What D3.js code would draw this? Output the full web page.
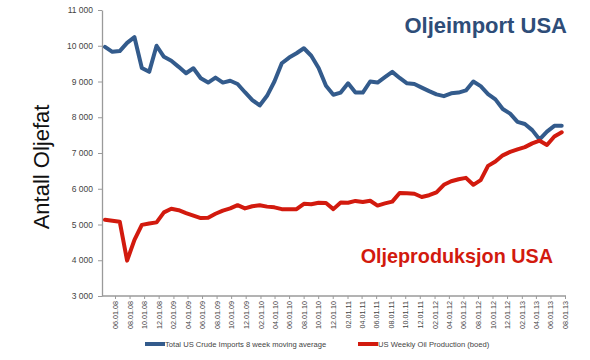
<!DOCTYPE html>
<html>
<head>
<meta charset="utf-8">
<script src="https://cdn.jsdelivr.net/npm/d3@7"></script>
<style>
  html, body { margin: 0; padding: 0; background: #fff; }
  svg { display: block; font-family: Arial, "Liberation Sans", sans-serif; }
</style>
</head>
<body>
<svg id="chart" width="590" height="360"></svg>
<script>
// Monthly points, roughly Apr 2008 – Jul 2013 (values in thousand barrels/day)
const importsValues = [
  9970, 9830, 9850, 10080, 10240, 9380, 9270, 10000, 9690, 9580,
  9410, 9230, 9370, 9090, 8970, 9110, 8970, 9020, 8930, 8700,
  8480, 8330, 8600, 9000, 9510, 9670, 9790, 9930, 9720, 9380,
  8880, 8630, 8690, 8950, 8690, 8690, 9000, 8970, 9120, 9270,
  9100, 8950, 8930, 8830, 8730, 8640, 8590, 8670, 8690, 8750,
  9000, 8870, 8650, 8500, 8230, 8100, 7870, 7810, 7640, 7380,
  7600, 7760, 7760
];
const productionValues = [
  5130, 5105, 5080, 3990, 4570, 4990, 5030, 5060, 5340, 5440,
  5400, 5320, 5250, 5180, 5190, 5300, 5390, 5450, 5540, 5450,
  5510, 5540, 5500, 5480, 5430, 5425, 5430, 5580, 5565, 5610,
  5600, 5430, 5615, 5610, 5660, 5630, 5665, 5530, 5590, 5640,
  5880, 5875, 5860, 5770, 5820, 5900, 6110, 6210, 6265, 6305,
  6110, 6240, 6640, 6760, 6935, 7030, 7100, 7165, 7270, 7345,
  7225, 7460, 7580
];
const yTicks = [3000, 4000, 5000, 6000, 7000, 8000, 9000, 10000, 11000];
const xTickLabels = [
  "06.01.08","08.01.08","10.01.08","12.01.08",
  "02.01.09","04.01.09","06.01.09","08.01.09","10.01.09","12.01.09",
  "02.01.10","04.01.10","06.01.10","08.01.10","10.01.10","12.01.10",
  "02.01.11","04.01.11","06.01.11","08.01.11","10.01.11","12.01.11",
  "02.01.12","04.01.12","06.01.12","08.01.12","10.01.12","12.01.12",
  "02.01.13","04.01.13","06.01.13","08.01.13"
];
const seriesNames = ["Total US Crude Imports 8 week moving average", "US Weekly Oil Production (boed)"];
const titleImport = "Oljeimport USA";
const titleProd = "Oljeproduksjon USA";
const yTitle = "Antall Oljefat";

const blue = "#335b8c";
const red = "#d21a0e";

const svg = d3.select("#chart");
const parse = d3.timeParse("%m.%d.%y");
const fmt = d3.timeFormat("%m.%d.%y");

const y = d3.scaleLinear().domain([3000, 11000]).range([296, 10]);
const xi = d3.scaleLinear().domain([0, importsValues.length - 1]).range([105, 561.7]);
const xt = d3.scaleTime()
  .domain([parse(xTickLabels[0]), parse(xTickLabels[xTickLabels.length - 1])])
  .range([115, 565]);

// Y axis
const yAxis = svg.append("g").attr("transform", "translate(102,0)")
  .call(d3.axisLeft(y).tickValues(yTicks).tickSize(4).tickSizeOuter(0).tickPadding(5)
    .tickFormat(d => d3.format(",")(d).replace(",", " ")));
yAxis.select(".domain").attr("stroke", "#9a9a9a").attr("stroke-width", 1.3);
yAxis.selectAll(".tick line").attr("stroke", "#9a9a9a");
yAxis.selectAll("text").attr("fill", "#444").style("font-size", "8.5px");

// X axis
const xAxis = svg.append("g").attr("transform", "translate(0,296)")
  .call(d3.axisBottom(xt).tickValues(xTickLabels.map(parse)).tickSize(3).tickSizeOuter(0)
    .tickFormat(fmt));
xAxis.select(".domain").remove();
xAxis.append("line").attr("x1", 102).attr("x2", 566).attr("y1", 0).attr("y2", 0)
  .attr("stroke", "#9a9a9a").attr("stroke-width", 1.3);
xAxis.selectAll(".tick line").attr("stroke", "#9a9a9a");
xAxis.selectAll("text")
  .attr("fill", "#444").style("font-size", "7.2px")
  .attr("transform", "rotate(-90)")
  .attr("text-anchor", "end")
  .attr("x", -5).attr("y", 0).attr("dy", "0.35em");

// Lines
const line = d3.line().x((d, i) => xi(i)).y(d => y(d)).curve(d3.curveLinear);
svg.append("path").datum(importsValues).attr("d", line)
  .attr("fill", "none").attr("stroke", blue).attr("stroke-width", 4)
  .attr("stroke-linejoin", "round").attr("stroke-linecap", "round");
svg.append("path").datum(productionValues).attr("d", line)
  .attr("fill", "none").attr("stroke", red).attr("stroke-width", 4)
  .attr("stroke-linejoin", "round").attr("stroke-linecap", "round");

// Titles
svg.append("text").attr("x", 567).attr("y", 33).attr("text-anchor", "end")
  .attr("fill", "#2e4d78").style("font-size", "22px").style("font-weight", "bold")
  .text(titleImport);
svg.append("text").attr("x", 553).attr("y", 263).attr("text-anchor", "end")
  .attr("fill", red).style("font-size", "19.8px").style("font-weight", "bold")
  .text(titleProd);

// Y title
svg.append("text").attr("transform", "translate(49,167) rotate(-90)")
  .attr("text-anchor", "middle").attr("fill", "#111")
  .style("font-size", "22px").text(yTitle);

// Legend
const legend = [
  { name: seriesNames[0], color: blue, x: 145 },
  { name: seriesNames[1], color: red, x: 358 }
];
const lg = svg.append("g");
legend.forEach(l => {
  lg.append("line").attr("x1", l.x).attr("x2", l.x + 20).attr("y1", 344).attr("y2", 344)
    .attr("stroke", l.color).attr("stroke-width", 4);
  lg.append("text").attr("x", l.x + 20).attr("y", 347).attr("fill", "#444")
    .style("font-size", "7.6px").text(l.name);
});
</script>
</body>
</html>
